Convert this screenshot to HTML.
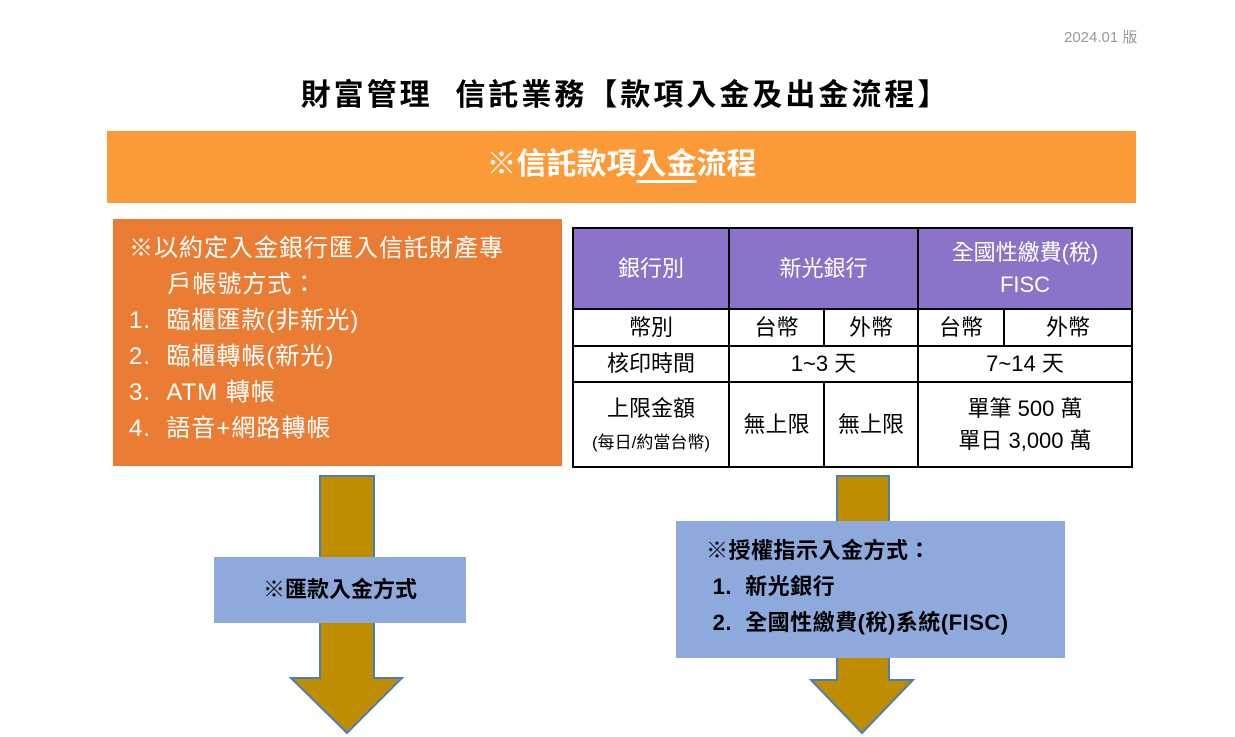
<!DOCTYPE html>
<html><head><meta charset="utf-8"><style>
body{margin:0;width:1235px;height:737px;background:#fff;position:relative;overflow:hidden;font-family:"Liberation Sans","Noto Sans CJK TC",sans-serif;}
.a{position:absolute;}
table{border-collapse:collapse;position:absolute;left:572px;top:227px;width:561px;height:241px;}
td{border:2px solid #000;text-align:center;font-size:22px;color:#000;padding:0;line-height:1.45}
tr.h td{background:#8b73c9;color:#fff;}
</style></head><body>
<div class="a" style="left:1064px;top:26px;font-size:15px;color:#999">2024.01 版</div>
<div class="a" style="left:0;width:1235px;top:70px;text-align:center;font-size:30px;font-weight:bold;color:#000;padding-left:8px;letter-spacing:3px">財富管理&nbsp; 信託業務【款項入金及出金流程】</div>
<div class="a" style="left:107px;top:131px;width:1029px;height:72px;background:#fb9a36;color:#fff;font-size:30px;font-weight:bold;text-align:center;line-height:68px">※信託款項<span style="text-decoration:underline;text-underline-offset:6px">入金</span>流程</div>
<div class="a" style="left:113px;top:219px;width:449px;height:247px;background:#ea7d33;color:#fff;font-size:24px;line-height:36px;padding:12px 0 0 16px;box-sizing:border-box;letter-spacing:1px">※以約定入金銀行匯入信託財產專<br>&nbsp;&nbsp;&nbsp;&nbsp;&nbsp;戶帳號方式：<br>1.&nbsp; 臨櫃匯款(非新光)<br>2.&nbsp; 臨櫃轉帳(新光)<br>3.&nbsp; ATM 轉帳<br>4.&nbsp; 語音+網路轉帳</div>
<table>
<tr class="h" style="height:81px"><td style="width:154px">銀行別</td><td colspan="2">新光銀行</td><td colspan="2">全國性繳費(稅)<br>FISC</td></tr>
<tr style="height:37px"><td>幣別</td><td style="width:93px">台幣</td><td style="width:92px">外幣</td><td style="width:84px">台幣</td><td>外幣</td></tr>
<tr style="height:36px"><td>核印時間</td><td colspan="2">1~3 天</td><td colspan="2">7~14 天</td></tr>
<tr><td>上限金額<br><span style="font-size:17px">(每日/約當台幣)</span></td><td>無上限</td><td>無上限</td><td colspan="2">單筆 500 萬<br>單日 3,000 萬</td></tr>
</table>
<svg class="a" style="left:0;top:0" width="1235" height="737">
<polygon points="320,476 374,476 374,678 402,678 347,733 291,678 320,678" fill="#bf8e00" stroke="#4a7ebb" stroke-width="2"/>
<polygon points="837,476 889,476 889,680 913,680 862,733 811,680 837,680" fill="#bf8e00" stroke="#4a7ebb" stroke-width="2"/>
</svg>
<div class="a" style="left:214px;top:557px;width:252px;height:66px;background:#8eaadc;font-size:22px;font-weight:bold;line-height:66px;text-align:center">※匯款入金方式</div>
<div class="a" style="left:676px;top:521px;width:389px;height:137px;background:#8eaadc;font-size:22px;font-weight:bold;line-height:36px;padding:12px 0 0 30px;box-sizing:border-box;letter-spacing:0.5px">※授權指示入金方式：<br>&nbsp;1.&nbsp; 新光銀行<br>&nbsp;2.&nbsp; 全國性繳費(稅)系統(FISC)</div>
</body></html>
